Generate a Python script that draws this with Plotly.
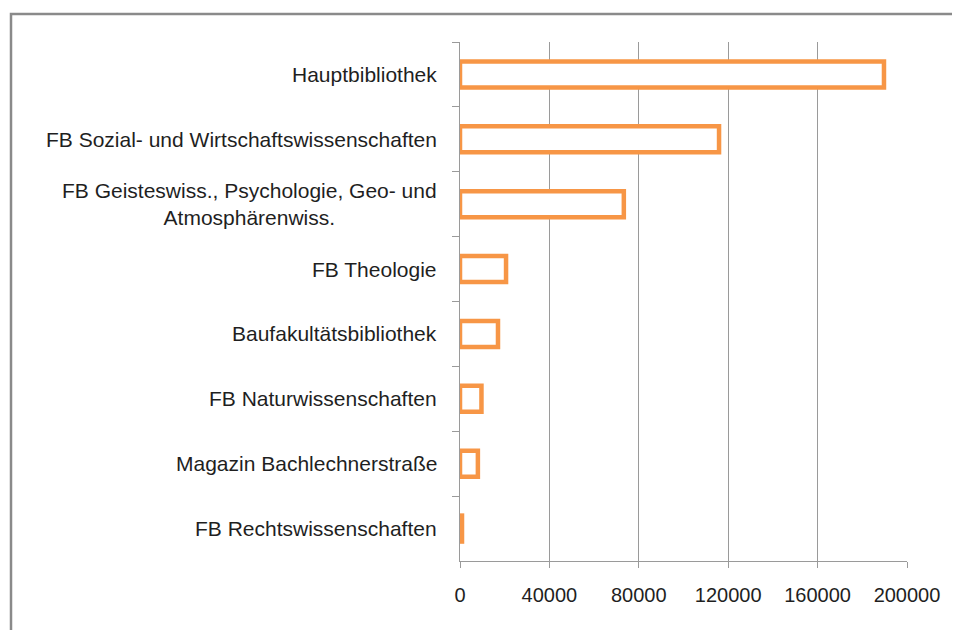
import plotly.graph_objects as go

categories = [
    "Hauptbibliothek",
    "FB Sozial- und Wirtschaftswissenschaften",
    "FB Geisteswiss., Psychologie, Geo- und<br>Atmosphärenwiss.",
    "FB Theologie",
    "Baufakultätsbibliothek",
    "FB Naturwissenschaften",
    "Magazin Bachlechnerstraße",
    "FB Rechtswissenschaften",
]
values = [189700, 115900, 73300, 20600, 17000, 9600, 8000, 900]
x_tickvals = [0, 40000, 80000, 120000, 160000, 200000]
x_ticktext = ["0", "40000", "80000", "120000", "160000", "200000"]

OFF = 8  # default page body margin
W, H = 960 - OFF, 630 - OFF
L = 460 - OFF
R = W - (907 - OFF)
T = 42 - OFF
B = H - (561 - OFF)
plot_w = W - L - R
plot_h = H - T - B

FONT = "Liberation Sans, Arial, sans-serif"
TXT = "#1f1f1f"
GRID = "#9a9a9a"
ORANGE = "#F79646"

fig = go.Figure()
fig.add_trace(go.Bar(
    x=values,
    y=categories,
    orientation="h",
    width=0.4,
    marker=dict(color="white", line=dict(color=ORANGE, width=4.5)),
    hoverinfo="x+y",
))

annotations = []
for c in categories:
    annotations.append(dict(
        x=0, xref="paper", y=c, yref="y",
        text=c, showarrow=False,
        xanchor="right", yanchor="middle", align="center",
        xshift=-21,
        font=dict(family=FONT, size=21, color=TXT),
    ))


def px_x(px):
    return (px - OFF - L) / plot_w


def px_y(py):
    return (H - B - (py - OFF)) / plot_h


fig.update_layout(
    width=W, height=H,
    margin=dict(l=L, r=R, t=T, b=B, pad=0),
    paper_bgcolor="white",
    plot_bgcolor="white",
    showlegend=False,
    annotations=annotations,
    shapes=[dict(
        type="rect", xref="paper", yref="paper",
        x0=px_x(11), x1=px_x(1100), y0=px_y(800), y1=px_y(14),
        line=dict(color="#8a8a8a", width=2.5),
        fillcolor="rgba(0,0,0,0)", layer="below",
    )],
    xaxis=dict(
        range=[0, 200000],
        tickvals=x_tickvals,
        ticktext=x_ticktext,
        showgrid=True, gridcolor=GRID, gridwidth=1,
        zeroline=False,
        showline=True, linecolor=GRID, linewidth=1,
        ticks="outside", ticklen=6, tickcolor=GRID, tickwidth=1,
        ticklabelstandoff=10,
        tickfont=dict(family=FONT, size=20, color=TXT),
        fixedrange=True,
    ),
    yaxis=dict(
        type="category",
        categoryorder="array", categoryarray=categories,
        autorange="reversed",
        showticklabels=False,
        tickson="boundaries",
        ticks="outside", ticklen=7, tickcolor=GRID, tickwidth=1,
        showline=True, linecolor=GRID, linewidth=1,
        showgrid=False, zeroline=False,
        fixedrange=True,
    ),
)

fig.write_html("out.html")
